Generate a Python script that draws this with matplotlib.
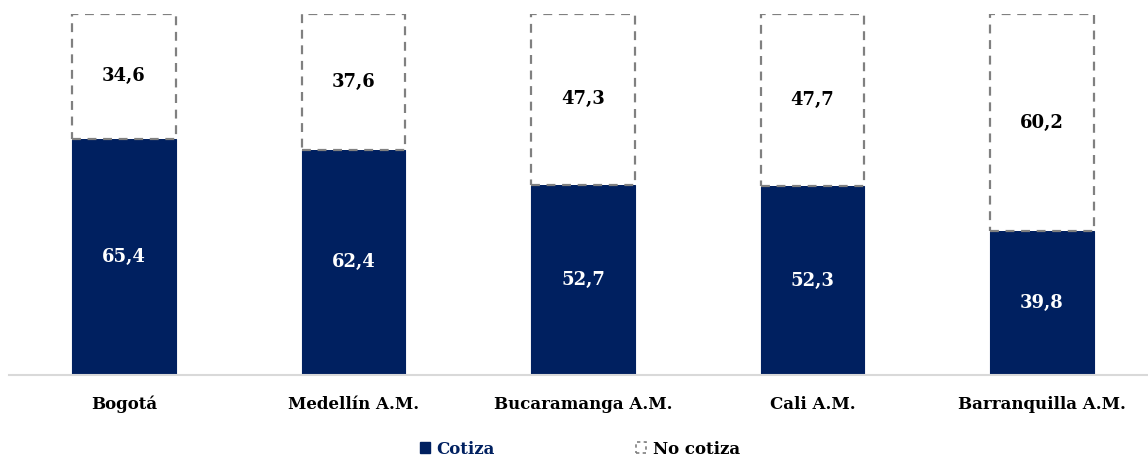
import matplotlib.pyplot as plt
from matplotlib.patches import Patch

ciudades = ['Bogotá', 'Medellín A.M.', 'Bucaramanga A.M.', 'Cali A.M.', 'Barranquilla A.M.']
cotiza = [65.4, 62.4, 52.7, 52.3, 39.8]
no_cotiza = [34.6, 37.6, 47.3, 47.7, 60.2]

azul = '#002060'
gris = '#808080'

plt.rcParams['font.family'] = ['DejaVu Serif']
plt.rcParams['font.weight'] = 'bold'

W, H = 1148, 458
fig = plt.figure(figsize=(W / 100, H / 100), dpi=100)
# axes in pixel coords: baseline y=375, top (100) y=14, category width 229.5 px
left = 9.25
ax = fig.add_axes([left / W, (H - 375) / H, 229.5 * 5 / W, 361 / H])

x = range(len(ciudades))
ancho = 0.453
ax.bar(x, cotiza, width=ancho, color=azul, edgecolor=azul, linewidth=0.8, label='Cotiza')
ax.bar(x, no_cotiza, width=ancho, bottom=cotiza, facecolor='white', edgecolor=gris,
       linewidth=1.6, linestyle=(0, (4, 3)), label='No cotiza')

for i in x:
    ax.text(i, cotiza[i] / 2, f'{cotiza[i]:.1f}'.replace('.', ','), ha='center', va='center',
            color='white', fontsize=13, fontweight='bold')
    ax.text(i, cotiza[i] + no_cotiza[i] / 2, f'{no_cotiza[i]:.1f}'.replace('.', ','),
            ha='center', va='center', color='black', fontsize=13, fontweight='bold')

ax.set_xlim(-0.5, 4.5)
ax.set_ylim(0, 100)
ax.set_yticks([])
ax.set_xticks(list(x))
ax.set_xticklabels(ciudades, fontsize=12, fontweight='bold')
ax.tick_params(axis='x', length=0, pad=15)
for s in ['top', 'right', 'left']:
    ax.spines[s].set_visible(False)
ax.spines['bottom'].set_color('#d9d9d9')
ax.spines['bottom'].set_linewidth(1.5)

handles = [Patch(facecolor=azul, edgecolor=azul),
           Patch(facecolor='white', edgecolor=gris, linestyle=(0, (2, 2)), linewidth=1.2)]
leg = fig.legend(handles, ['Cotiza', 'No cotiza'], loc='center', bbox_to_anchor=(580 / W, (H - 449) / H),
                 ncol=2, frameon=False, fontsize=12, handlelength=0.6, handleheight=0.6,
                 handletextpad=0.4, columnspacing=8.5)
leg.get_texts()[0].set_color(azul)

fig.savefig('out.png', dpi=100)
